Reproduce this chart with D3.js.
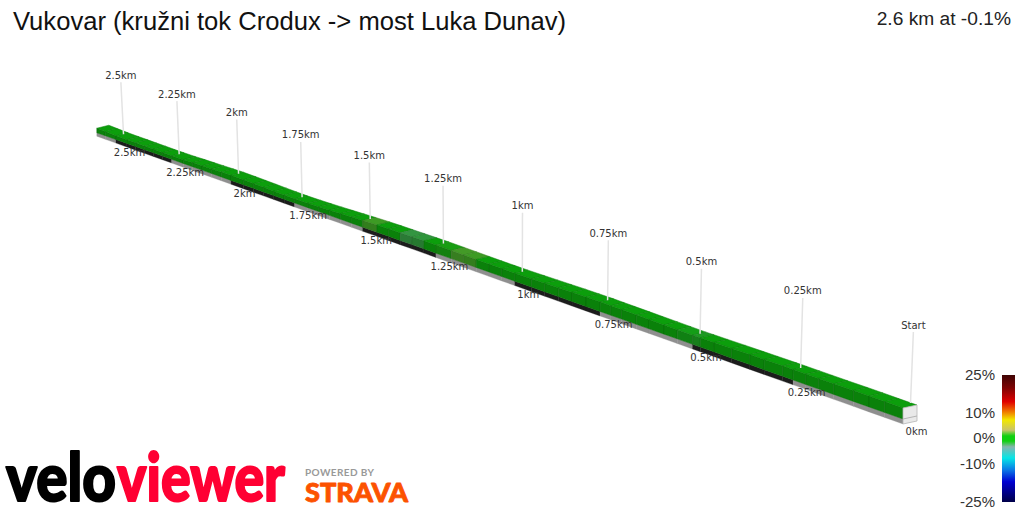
<!DOCTYPE html>
<html>
<head>
<meta charset="utf-8">
<script src="https://cdn.jsdelivr.net/npm/d3@7"></script>
<style>
    html, body { margin: 0; padding: 0; background: #fff; }
    svg { display: block; }
</style>
</head>
<body>
<svg width="1024" height="512"></svg>
<script>
var titleText = 'Vukovar (kružni tok Crodux -> most Luka Dunav)';
var summaryText = '2.6 km at -0.1%';

// km along the route, elevation (m) at that km, grade (%) of each piece after it
var distances = [0, .04, .075, .11, .155, .19, .22, .25,
    .275, .32, .355, .4, .445, .48, .5,
    .54, .575, .615, .65, .69, .72, .75,
    .79, .83, .87, .91, .95, 1,
    1.04, 1.08, 1.12, 1.16, 1.2, 1.25,
    1.29, 1.33, 1.37, 1.41, 1.45, 1.5,
    1.54, 1.58, 1.62, 1.66, 1.7, 1.75,
    1.79, 1.83, 1.87, 1.91, 1.95, 2,
    2.04, 2.08, 2.12, 2.16, 2.2, 2.25,
    2.29, 2.33, 2.37, 2.41, 2.45, 2.5,
    2.55, 2.59];
var elevations = [92, 92, 92.1, 92.1, 92, 92, 92, 92,
    92, 91.9, 91.8, 91.7, 91.5, 91.4, 91.3,
    91.4, 91.5, 91.6, 91.7, 91.8, 91.9, 92,
    91.9, 91.8, 91.6, 91.4, 91.2, 91,
    91, 91, 91.1, 91.2, 91.3, 91.4,
    91.3, 91.2, 91.1, 91, 90.8, 90.4,
    90, 89.6, 89.2, 88.9, 88.6, 88.4,
    88.5, 88.7, 88.9, 89.1, 89.3, 89.4,
    89.2, 89, 88.8, 88.6, 88.3, 88.1,
    88.1, 88.2, 88.2, 88.3, 88.3, 88.4,
    88.8, 89.2];
var grades = [0, 0, 0, 0, 0, 0, 0,
    0, 0, 0, 0, 0, -.5, -1.4,
    -1.2, 0, 0, 0, 0, -.3, 0,
    0, 0, 0, 0, 0, 0,
    0, 0, .5, 1.8, 1.9, 1.2,
    -.5, -1.9, -2, -1, .5, 1.8,
    .5, 0, 0, 0, 0, 0,
    0, 0, 0, 0, 0, 0,
    .5, .5, 0, 0, 0, 0,
    0, 0, .4, .5, 0, 0, .3,
    0, 0];

var tickDistances = [0, .25, .5, .75, 1, 1.25, 1.5, 1.75, 2, 2.25, 2.5];
var topLabels = ['Start', '0.25km', '0.5km', '0.75km', '1km', '1.25km', '1.5km', '1.75km', '2km', '2.25km', '2.5km'];
var bottomLabels = ['0km', '0.25km', '0.5km', '0.75km', '1km', '1.25km', '1.5km', '1.75km', '2km', '2.25km', '2.5km'];

var legendTicks = [25, 10, 0, -10, -25];
var legendStops = [25, 20, 14.5, 10.5, 7.3, 3.3, 1, -1, -3.3, -7.7, -12.4, -17, -25];
var legendColors = ['#3f0505', '#7d0404', '#e00000', '#f07a00', '#f2e800', '#c9c46a', '#10d010', '#10d010',
    '#86b5ae', '#06e6e6', '#0a78e6', '#0000d2', '#000048'];

var svg = d3.select('svg');
var shrink = 0.184;

function depth(d) { return d / (1 + shrink * d); }
function perspective(d) { return 1 / (1 + shrink * d); }

var xScale = d3.scaleLinear().domain([0, 1]).range([903, 443.4]);
var yScale = d3.scaleLinear().domain([0, 1]).range([419, 255.8]);
var sideScale = d3.scaleLinear().domain([92, 93]).range([11, 12.54]);
var widthScale = d3.scaleLinear().domain([0, 2.6]).range([14, 12]);
var stripeScale = d3.scaleLinear().domain([0, 2.6]).range([5, 3.5]);
var pinScale = d3.scaleLinear().domain([0, .25, .75, 2.5]).range([71, 70, 60, 52]);
var gradeY = d3.scaleLinear().domain([25, -25]).range([375, 502]);
var gradeColor = d3.scaleLinear().domain(legendStops).range(legendColors).interpolate(d3.interpolateRgb).clamp(true);

// floor point under the near edge of the road
function floorPoint(d) {
    return [xScale(depth(d)), yScale(depth(d))];
}
function nearTop(i) {
    var p = floorPoint(distances[i]);
    return [p[0], p[1] - sideScale(elevations[i]) * perspective(distances[i])];
}
function farTop(i) {
    var p = nearTop(i);
    return [p[0] + widthScale(distances[i]), p[1] - 3];
}
function elevationAt(d) {
    var i = d3.bisectLeft(distances, d);
    return elevations[i];
}
function shade(color, k) {
    var c = d3.rgb(color);
    return d3.rgb(c.r * k, c.g * k, c.b * k).formatHex();
}
function pathOf(points) {
    return 'M' + points.join('L') + 'Z';
}

function drawTitle() {
    svg.append('text')
        .attr('x', 13).attr('y', 30)
        .style('font', '25.6px "Liberation Sans"')
        .style('fill', '#111')
        .text(titleText);
    svg.append('text')
        .attr('x', 1011).attr('y', 25)
        .attr('text-anchor', 'end')
        .style('font', '19.2px "Liberation Sans"')
        .style('fill', '#222')
        .text(summaryText);
}

function drawRoad() {
    var road = svg.append('g');
    var pieces = d3.range(distances.length - 1).reverse();

    pieces.forEach(function (i) {
        var a = floorPoint(distances[i]);
        var b = floorPoint(distances[i + 1]);
        var color = gradeColor(grades[i]);

        // floor stripe, changes every quarter km
        var mid = (distances[i] + distances[i + 1]) / 2;
        road.append('path')
            .attr('d', pathOf([a, b,
                [b[0], b[1] + stripeScale(distances[i + 1])],
                [a[0], a[1] + stripeScale(distances[i])]]))
            .style('fill', Math.floor(mid / 0.25) % 2 ? '#1c1c1c' : '#8f8f8f')
            .style('stroke', Math.floor(mid / 0.25) % 2 ? '#1c1c1c' : '#8f8f8f')
            .style('stroke-width', 0.3);

        road.append('path')
            .attr('d', pathOf([nearTop(i), nearTop(i + 1), b, a]))
            .style('fill', shade(color, 0.62))
            .style('stroke', shade(color, 0.5))
            .style('stroke-width', 0.5);

        road.append('path')
            .attr('d', pathOf([nearTop(i), nearTop(i + 1), farTop(i + 1), farTop(i)]))
            .style('fill', shade(color, 0.76))
            .style('stroke', shade(color, 0.62))
            .style('stroke-width', 0.5);
    });

    // white end face at the start
    var floor0 = floorPoint(0);
    var top0 = nearTop(0);
    var far0 = farTop(0);
    var thick = stripeScale(0);
    road.append('path')
        .attr('d', pathOf([top0, far0, [far0[0], floor0[1] - 3 + thick], [floor0[0], floor0[1] + thick]]))
        .style('fill', '#e9e9e9')
        .style('stroke', '#b5b5b5')
        .style('stroke-width', 0.8);
    road.append('line')
        .attr('x1', floor0[0]).attr('y1', floor0[1])
        .attr('x2', far0[0]).attr('y2', floor0[1] - 3)
        .style('stroke', '#b5b5b5');
}

function drawTicks() {
    var ticks = svg.append('g')
        .style('font', '10px "DejaVu Sans"')
        .style('fill', '#333');

    tickDistances.forEach(function (d, i) {
        var p = floorPoint(d);
        var s = perspective(d);
        var baseX = p[0] + 7.5;
        var baseY = p[1] - sideScale(elevationAt(d)) * s - 1.5 - (d === 0 ? 3.5 : 0);
        var topX = baseX + (baseX - 500) * 0.007;
        var topY = baseY - pinScale(d);

        ticks.append('line')
            .attr('x1', baseX).attr('y1', baseY)
            .attr('x2', topX).attr('y2', topY)
            .style('stroke', '#e3e3e3')
            .style('stroke-width', 1.5);
        ticks.append('text')
            .attr('x', topX).attr('y', topY - 3.5)
            .attr('text-anchor', 'middle')
            .text(topLabels[i]);
        ticks.append('text')
            .attr('x', p[0] + 13.5).attr('y', p[1] + (d === 0 ? 16 : 16.5))
            .attr('text-anchor', 'middle')
            .text(bottomLabels[i]);
    });
}

function drawLegend() {
    var gradient = svg.append('defs').append('linearGradient')
        .attr('id', 'gradeRamp')
        .attr('x1', 0).attr('y1', 0).attr('x2', 0).attr('y2', 1);
    legendStops.forEach(function (g, i) {
        gradient.append('stop')
            .attr('offset', (25 - g) / 50)
            .attr('stop-color', legendColors[i]);
    });

    svg.append('rect')
        .attr('x', 1002).attr('y', gradeY(25))
        .attr('width', 13).attr('height', gradeY(-25) - gradeY(25))
        .style('fill', 'url(#gradeRamp)');

    var axis = d3.axisLeft(gradeY)
        .tickValues(legendTicks)
        .tickSize(0)
        .tickPadding(7)
        .tickFormat(function (d) { return d + '%'; });

    var g = svg.append('g')
        .attr('transform', 'translate(1002,-0.7)')
        .call(axis);
    g.select('.domain').remove();
    g.selectAll('text')
        .style('font', '15px "Liberation Sans"')
        .style('fill', '#333');
}

function drawLogos() {
    var logo = svg.append('g')
        .style('font-family', 'Lato, "Liberation Sans"')
        .style('font-weight', 900)
        .style('stroke-linejoin', 'round');

    logo.append('text')
        .attr('x', 6).attr('y', 501)
        .attr('textLength', 110).attr('lengthAdjust', 'spacingAndGlyphs')
        .style('font-size', '66px')
        .style('fill', '#000')
        .style('stroke', '#000')
        .style('stroke-width', 2)
        .text('velo');
    logo.append('text')
        .attr('x', 117).attr('y', 501)
        .attr('textLength', 168).attr('lengthAdjust', 'spacingAndGlyphs')
        .style('font-size', '66px')
        .style('fill', '#ff0033')
        .style('stroke', '#ff0033')
        .style('stroke-width', 2)
        .text('viewer');
    logo.append('text')
        .attr('x', 305).attr('y', 476)
        .attr('textLength', 69).attr('lengthAdjust', 'spacing')
        .style('font-size', '10px')
        .style('font-weight', 700)
        .style('fill', '#999')
        .text('POWERED BY');
    logo.append('text')
        .attr('x', 305).attr('y', 502)
        .attr('textLength', 103).attr('lengthAdjust', 'spacingAndGlyphs')
        .style('font-size', '26px')
        .style('fill', '#fc5200')
        .style('stroke', '#fc5200')
        .style('stroke-width', 0.8)
        .text('STRAVA');
}

drawTitle();
drawRoad();
drawTicks();
drawLegend();
drawLogos();
</script>
</body>
</html>
